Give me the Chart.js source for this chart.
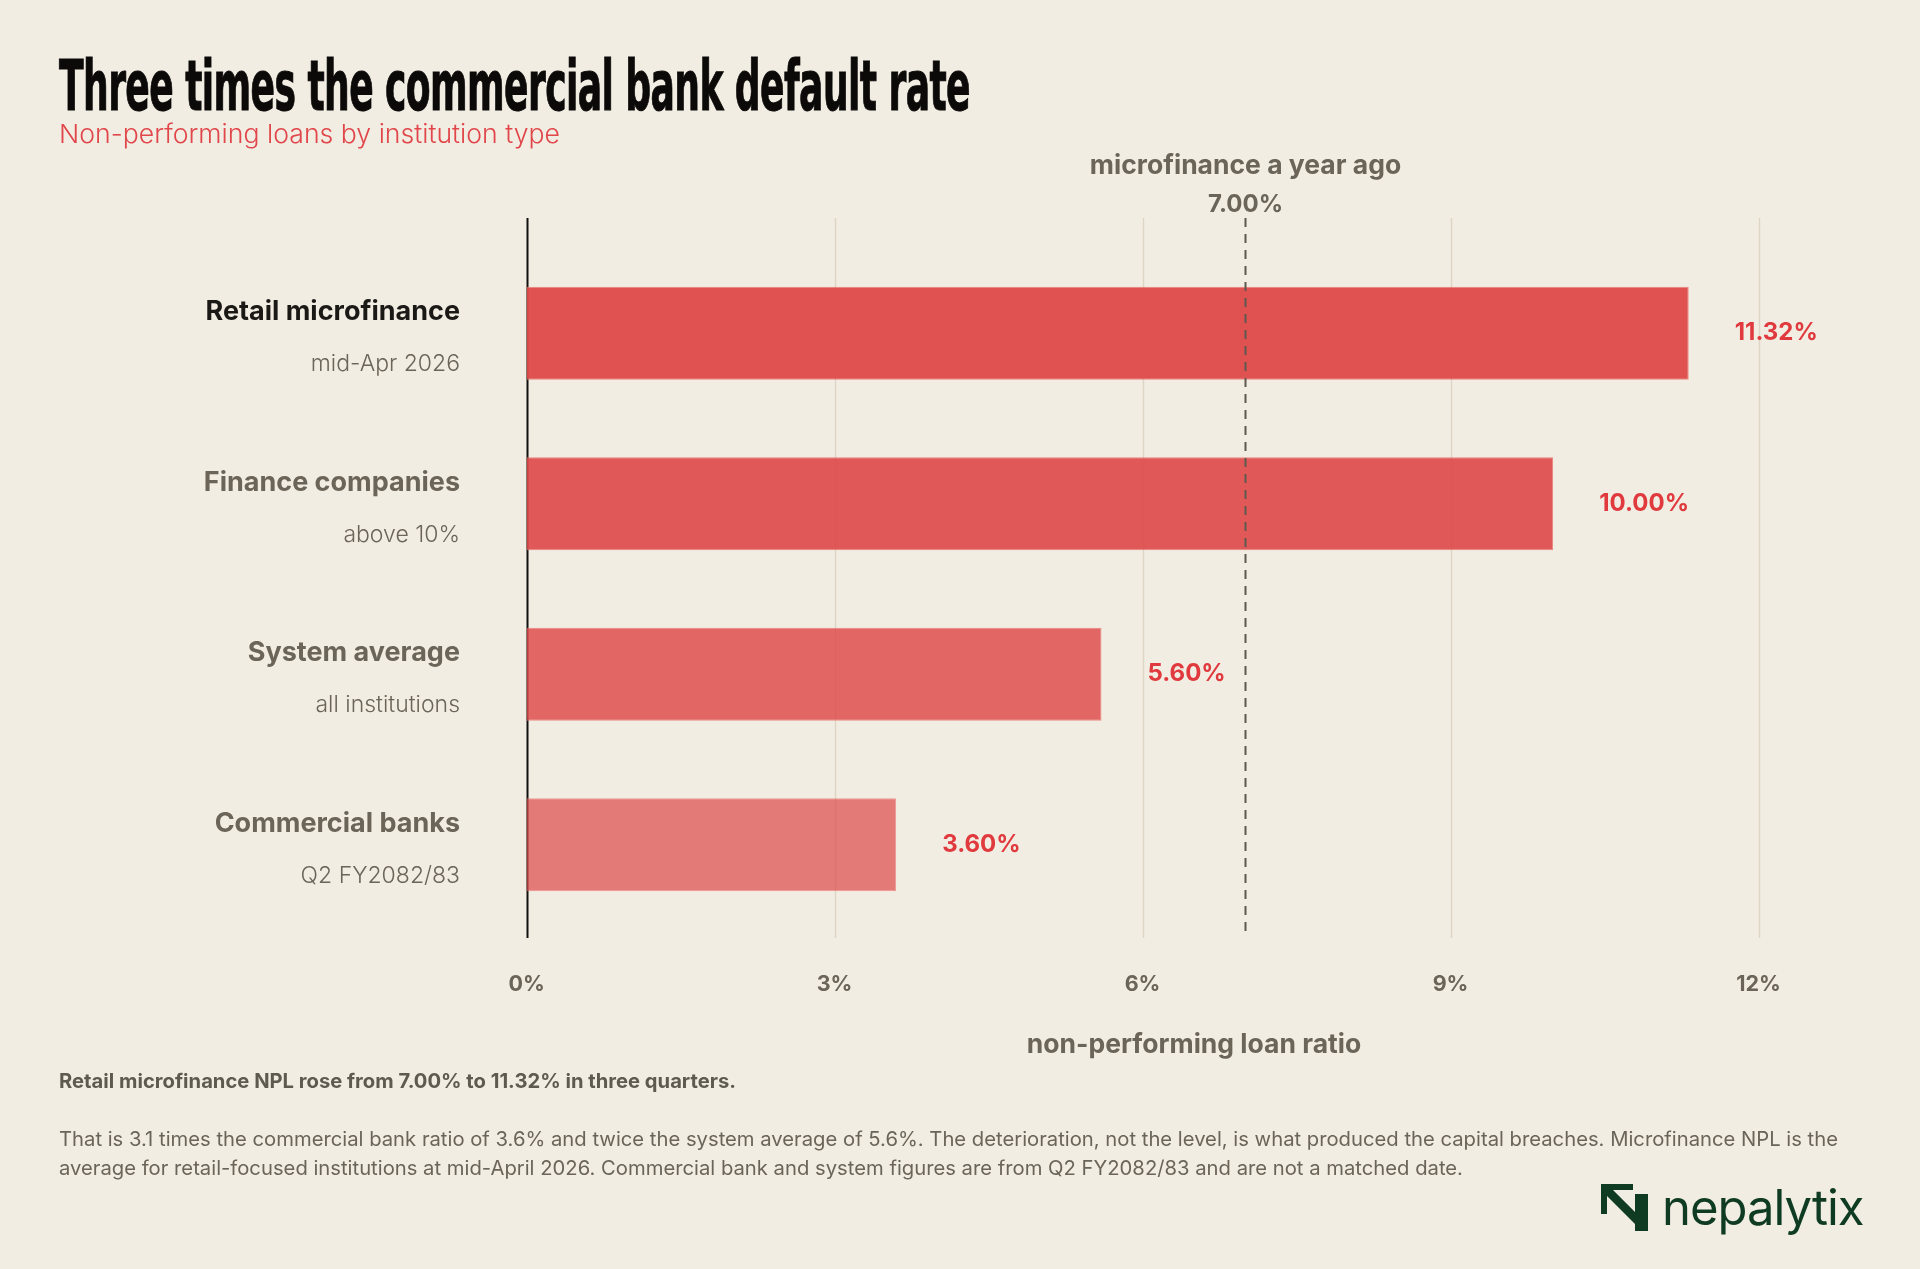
<!DOCTYPE html>
<html>
<head>
<meta charset="utf-8">
<script src="https://cdn.jsdelivr.net/npm/chart.js@4.4.1/dist/chart.umd.min.js"></script>
<style>
  html,body{margin:0;padding:0;background:#f2ede3;}
  #page{position:relative;width:1920px;height:1269px;overflow:hidden;background:#f2ede3;font-family:Inter,"Noto Sans",sans-serif;}
  #chart{position:absolute;left:0;top:0;}
  .txt{position:absolute;white-space:nowrap;}
  #title{left:59px;top:45px;font-family:"Liberation Sans Narrow","DejaVu Sans Condensed",sans-serif;font-weight:bold;font-size:70px;color:#0b0a09;letter-spacing:-1px;-webkit-text-stroke:1px #0b0a09;}
  #subtitle{left:59px;top:118px;font-size:26px;font-weight:300;color:#e0464a;}
  #note{left:59px;top:1069px;font-size:20px;font-weight:bold;color:#5f5a50;}
  #para{left:59px;top:1125px;font-size:20px;line-height:29px;color:#6b6458;}
  #logo{left:1601px;top:1183px;display:flex;align-items:center;}
  #logo span{font-size:49px;color:#0e3b22;font-weight:400;margin-left:14px;letter-spacing:-1px;line-height:49px;}
</style>
</head>
<body>
<div id="page">
  <canvas id="chart" width="1920" height="1269"></canvas>
  <div class="txt" id="title">Three times the commercial bank default rate</div>
  <div class="txt" id="subtitle">Non-performing loans by institution type</div>
  <div class="txt" id="note">Retail microfinance NPL rose from 7.00% to 11.32% in three quarters.</div>
  <div class="txt" id="para">That is 3.1 times the commercial bank ratio of 3.6% and twice the system average of 5.6%. The deterioration, not the level, is what produced the capital breaches. Microfinance NPL is the<br>average for retail-focused institutions at mid-April 2026. Commercial bank and system figures are from Q2 FY2082/83 and are not a matched date.</div>
  <div class="txt" id="logo">
    <svg width="47" height="47" viewBox="0 0 47 47">
      <path d="M0 0 H32 V6 H6 V30 H0 Z" fill="#0e3b22"/>
      <path d="M2 8 L8 2 L44 38 L38 44 Z" fill="#0e3b22"/>
      <path d="M34 10 H47 V47 H34 Z" fill="#0e3b22"/>
    </svg>
    <span>nepalytix</span>
  </div>
</div>
<script>
// data
const categories = ['Retail microfinance', 'Finance companies', 'System average', 'Commercial banks'];
const subLabels = ['mid-Apr 2026', 'above 10%', 'all institutions', 'Q2 FY2082/83'];
const nplRatio = [11.32, 10.00, 5.60, 3.60];
const xTicks = [0, 3, 6, 9, 12];
const yearAgoValue = 7.00;
const yearAgoLabel = 'microfinance a year ago';
const xTitle = 'non-performing loan ratio';

// styling
const barAlpha = [0.94, 0.9, 0.82, 0.7];
const GREY = '#6b6458';
const RED = '#e03a3e';

// fit a text block to the width measured on the reference
function fitWidth(id, target) {
  const el = document.getElementById(id);
  const w = el.getBoundingClientRect().width;
  el.style.transformOrigin = '0 0';
  el.style.transform = 'scaleX(' + (target / w) + ')';
}
fitWidth('title', 911);
fitWidth('subtitle', 501);
fitWidth('note', 677);
fitWidth('para', 1779);

const annotate = {
  id: 'annotate',
  beforeDatasetsDraw(chart) {
    const ctx = chart.ctx, x = chart.scales.x, a = chart.chartArea;
    const top = a.top - 30, bottom = a.bottom + 8;
    ctx.save();
    xTicks.forEach(v => {
      const px = Math.round(x.getPixelForValue(v)) + 0.5;
      ctx.beginPath();
      ctx.strokeStyle = v === 0 ? '#111' : '#ddd5c6';
      ctx.lineWidth = v === 0 ? 2 : 1.5;
      ctx.moveTo(px, top); ctx.lineTo(px, bottom); ctx.stroke();
    });
    ctx.restore();
  },
  afterDatasetsDraw(chart) {
    const ctx = chart.ctx, x = chart.scales.x, y = chart.scales.y, a = chart.chartArea;
    const top = a.top - 30, bottom = a.bottom + 8;
    ctx.save();
    // year-ago reference line
    const rx = Math.round(x.getPixelForValue(yearAgoValue)) + 0.5;
    ctx.setLineDash([9, 7]);
    ctx.strokeStyle = '#5f584e';
    ctx.lineWidth = 2;
    ctx.beginPath(); ctx.moveTo(rx, top); ctx.lineTo(rx, bottom); ctx.stroke();
    ctx.setLineDash([]);
    ctx.fillStyle = GREY;
    ctx.textAlign = 'center'; ctx.textBaseline = 'middle';
    ctx.font = 'bold 26.5px Inter, sans-serif';
    ctx.fillText(yearAgoLabel, rx, 166);
    ctx.font = 'bold 24px Inter, sans-serif';
    ctx.fillText(yearAgoValue.toFixed(2) + '%', rx, 205);

    // category labels and value labels
    const meta = chart.getDatasetMeta(0);
    categories.forEach((c, i) => {
      const cy = y.getPixelForValue(i);
      ctx.textAlign = 'right';
      ctx.font = 'bold 27px Inter, sans-serif';
      ctx.fillStyle = i === 0 ? '#1b1916' : GREY;
      ctx.fillText(c, 460, cy - 21);
      ctx.font = '300 23px Inter, sans-serif';
      ctx.fillStyle = GREY;
      ctx.fillText(subLabels[i], 460, cy + 31);
      ctx.textAlign = 'left';
      ctx.font = 'bold 24px Inter, sans-serif';
      ctx.fillStyle = RED;
      ctx.fillText(nplRatio[i].toFixed(2) + '%', meta.data[i].x + 46, cy);
    });

    // x axis title
    ctx.textAlign = 'center';
    ctx.font = 'bold 26.5px Inter, sans-serif';
    ctx.fillStyle = GREY;
    ctx.fillText(xTitle, 1194, 1045);
    ctx.restore();
  }
};

new Chart(document.getElementById('chart'), {
  type: 'bar',
  data: {
    labels: categories,
    datasets: [{
      data: nplRatio,
      backgroundColor: barAlpha.map(al => 'rgba(222,72,72,' + al + ')'),
      borderColor: barAlpha.map(al => 'rgba(236,120,116,' + al + ')'),
      borderWidth: 1,
      barPercentage: 0.545,
      categoryPercentage: 1
    }]
  },
  options: {
    indexAxis: 'y',
    responsive: false,
    animation: false,
    devicePixelRatio: 1,
    layout: { padding: { left: 526.6, right: 161.5, top: 248, bottom: 259 } },
    plugins: { legend: { display: false }, tooltip: { enabled: false } },
    scales: {
      x: {
        min: 0, max: 12,
        afterBuildTicks: s => { s.ticks = xTicks.map(v => ({ value: v })); },
        afterFit: s => { s.height = 80; },
        grid: { display: false, drawTicks: false },
        border: { display: false },
        ticks: {
          padding: 42,
          color: GREY,
          font: { family: 'Inter', size: 21.5, weight: 'bold' },
          callback: v => v + '%'
        }
      },
      y: {
        afterFit: s => { s.width = 0; },
        grid: { display: false },
        border: { display: false },
        ticks: { display: false }
      }
    }
  },
  plugins: [annotate]
});
</script>
</body>
</html>
